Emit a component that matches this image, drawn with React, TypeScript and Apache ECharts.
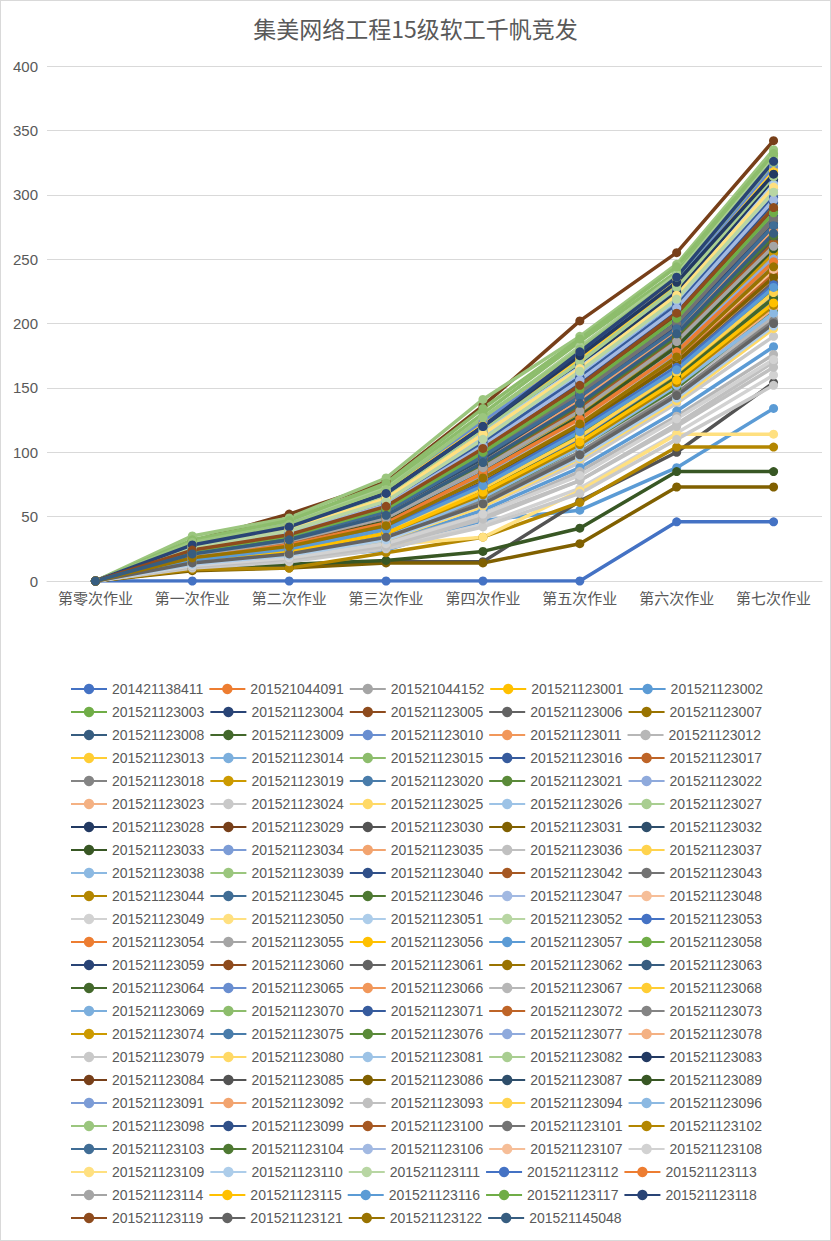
import React, { useEffect, useRef } from "react";
import * as echarts from "echarts";

const titleText = "集美网络工程15级软工千帆竞发";

const categories = ["第零次作业", "第一次作业", "第二次作业", "第三次作业", "第四次作业", "第五次作业", "第六次作业", "第七次作业"];

const yTicks = { min: 0, max: 400, interval: 50 };

const names = [
  "201421138411", "201521044091", "201521044152", "201521123001", "201521123002",
  "201521123003", "201521123004", "201521123005", "201521123006", "201521123007",
  "201521123008", "201521123009", "201521123010", "201521123011", "201521123012",
  "201521123013", "201521123014", "201521123015", "201521123016", "201521123017",
  "201521123018", "201521123019", "201521123020", "201521123021", "201521123022",
  "201521123023", "201521123024", "201521123025", "201521123026", "201521123027",
  "201521123028", "201521123029", "201521123030", "201521123031", "201521123032",
  "201521123033", "201521123034", "201521123035", "201521123036", "201521123037",
  "201521123038", "201521123039", "201521123040", "201521123042", "201521123043",
  "201521123044", "201521123045", "201521123046", "201521123047", "201521123048",
  "201521123049", "201521123050", "201521123051", "201521123052", "201521123053",
  "201521123054", "201521123055", "201521123056", "201521123057", "201521123058",
  "201521123059", "201521123060", "201521123061", "201521123062", "201521123063",
  "201521123064", "201521123065", "201521123066", "201521123067", "201521123068",
  "201521123069", "201521123070", "201521123071", "201521123072", "201521123073",
  "201521123074", "201521123075", "201521123076", "201521123077", "201521123078",
  "201521123079", "201521123080", "201521123081", "201521123082", "201521123083",
  "201521123084", "201521123085", "201521123086", "201521123087", "201521123089",
  "201521123091", "201521123092", "201521123093", "201521123094", "201521123096",
  "201521123098", "201521123099", "201521123100", "201521123101", "201521123102",
  "201521123103", "201521123104", "201521123106", "201521123107", "201521123108",
  "201521123109", "201521123110", "201521123111", "201521123112", "201521123113",
  "201521123114", "201521123115", "201521123116", "201521123117", "201521123118",
  "201521123119", "201521123121", "201521123122", "201521145048",
];

// cumulative scores per student, one row per name, in the same order
const scores: number[][] = [
  [0, 0, 0, 0, 0, 0, 46, 46],
  [0, 20, 30, 48, 85, 128, 175, 238],
  [0, 16, 24, 40, 72, 118, 165, 222],
  [0, 26, 40, 64, 115, 160, 218, 300],
  [0, 12, 18, 24, 47, 55, 88, 134],
  [0, 24, 36, 58, 100, 150, 205, 285],
  [0, 28, 42, 66, 122, 176, 228, 316],
  [0, 22, 33, 52, 95, 140, 190, 268],
  [0, 25, 35, 56, 98, 145, 200, 292],
  [0, 18, 26, 42, 80, 125, 180, 250],
  [0, 21, 31, 50, 90, 138, 196, 278],
  [0, 19, 28, 46, 86, 132, 185, 262],
  [0, 27, 41, 68, 118, 170, 226, 310],
  [0, 17, 25, 41, 76, 122, 170, 235],
  [0, 15, 22, 36, 66, 100, 150, 205],
  [0, 29, 43, 70, 124, 178, 234, 320],
  [0, 23, 34, 57, 104, 158, 214, 296],
  [0, 31, 46, 74, 130, 186, 240, 330],
  [0, 20, 29, 47, 88, 134, 188, 265],
  [0, 22, 32, 50, 92, 136, 192, 272],
  [0, 14, 21, 35, 62, 98, 145, 200],
  [0, 16, 23, 38, 70, 112, 160, 225],
  [0, 24, 37, 60, 108, 162, 216, 298],
  [0, 19, 27, 44, 82, 127, 178, 255],
  [0, 26, 39, 63, 112, 166, 222, 306],
  [0, 18, 27, 43, 78, 120, 168, 232],
  [0, 13, 20, 33, 58, 92, 138, 190],
  [0, 28, 44, 69, 120, 174, 230, 318],
  [0, 25, 38, 61, 106, 156, 212, 294],
  [0, 30, 45, 72, 126, 182, 238, 328],
  [0, 27, 40, 65, 116, 168, 224, 312],
  [0, 31, 52, 77, 136, 202, 255, 342],
  [0, 9, 12, 15, 15, 62, 100, 154],
  [0, 8, 10, 14, 14, 29, 73, 73],
  [0, 21, 30, 49, 90, 134, 186, 260],
  [0, 10, 13, 16, 23, 41, 85, 85],
  [0, 17, 26, 42, 78, 118, 168, 228],
  [0, 15, 23, 37, 68, 108, 155, 215],
  [0, 12, 17, 28, 50, 78, 122, 170],
  [0, 24, 36, 56, 102, 152, 208, 290],
  [0, 20, 31, 48, 88, 130, 182, 258],
  [0, 35, 49, 80, 141, 190, 246, 335],
  [0, 23, 34, 54, 96, 146, 202, 284],
  [0, 18, 28, 45, 84, 126, 176, 245],
  [0, 22, 35, 55, 100, 148, 200, 280],
  [0, 9, 10, 22, 34, 61, 104, 104],
  [0, 19, 29, 46, 86, 130, 184, 262],
  [0, 14, 22, 36, 64, 104, 150, 210],
  [0, 25, 38, 62, 110, 160, 214, 300],
  [0, 17, 25, 40, 74, 116, 164, 230],
  [0, 11, 16, 26, 44, 72, 115, 160],
  [0, 14, 20, 28, 34, 70, 114, 114],
  [0, 27, 41, 66, 116, 166, 220, 308],
  [0, 23, 35, 57, 104, 154, 210, 292],
  [0, 16, 24, 39, 72, 110, 158, 218],
  [0, 21, 33, 52, 95, 142, 194, 270],
  [0, 20, 30, 47, 87, 128, 180, 252],
  [0, 26, 40, 64, 114, 164, 220, 304],
  [0, 13, 19, 30, 55, 88, 132, 182],
  [0, 18, 27, 44, 82, 124, 174, 242],
  [0, 22, 33, 53, 97, 144, 198, 276],
  [0, 19, 28, 45, 83, 125, 172, 240],
  [0, 16, 25, 41, 75, 116, 166, 232],
  [0, 20, 31, 49, 90, 136, 188, 264],
  [0, 24, 37, 59, 106, 158, 212, 296],
  [0, 15, 23, 37, 70, 108, 158, 220],
  [0, 29, 44, 70, 124, 176, 232, 322],
  [0, 17, 26, 42, 79, 122, 172, 240],
  [0, 12, 18, 30, 52, 85, 128, 176],
  [0, 28, 43, 69, 121, 172, 230, 318],
  [0, 22, 34, 55, 99, 150, 204, 286],
  [0, 32, 47, 76, 134, 188, 244, 332],
  [0, 25, 37, 60, 108, 158, 214, 298],
  [0, 18, 27, 43, 80, 122, 172, 238],
  [0, 14, 21, 34, 62, 100, 146, 202],
  [0, 20, 30, 48, 86, 130, 182, 255],
  [0, 21, 32, 51, 93, 138, 192, 270],
  [0, 16, 24, 40, 73, 114, 162, 226],
  [0, 19, 29, 47, 85, 128, 180, 250],
  [0, 15, 23, 38, 68, 106, 154, 212],
  [0, 10, 15, 25, 42, 68, 110, 152],
  [0, 13, 20, 32, 58, 95, 140, 196],
  [0, 26, 39, 62, 112, 162, 218, 304],
  [0, 27, 42, 67, 118, 170, 228, 314],
  [0, 28, 43, 68, 120, 175, 232, 316],
  [0, 23, 35, 56, 100, 150, 206, 288],
  [0, 20, 31, 50, 91, 136, 190, 266],
  [0, 17, 26, 42, 78, 120, 170, 236],
  [0, 22, 33, 52, 94, 141, 194, 274],
  [0, 19, 29, 46, 84, 128, 182, 258],
  [0, 18, 28, 44, 82, 124, 176, 246],
  [0, 21, 32, 51, 92, 140, 194, 272],
  [0, 11, 17, 27, 48, 78, 120, 166],
  [0, 16, 24, 38, 72, 112, 162, 224],
  [0, 14, 22, 35, 65, 104, 152, 208],
  [0, 30, 44, 71, 127, 180, 236, 325],
  [0, 24, 36, 58, 104, 154, 210, 294],
  [0, 20, 30, 49, 89, 134, 188, 262],
  [0, 23, 35, 54, 98, 146, 200, 282],
  [0, 15, 23, 37, 67, 106, 154, 214],
  [0, 22, 34, 54, 97, 143, 196, 276],
  [0, 21, 32, 50, 91, 137, 190, 268],
  [0, 25, 37, 59, 105, 156, 212, 296],
  [0, 18, 27, 44, 80, 123, 174, 242],
  [0, 12, 18, 29, 52, 82, 126, 172],
  [0, 27, 40, 64, 114, 165, 222, 306],
  [0, 13, 20, 32, 60, 96, 142, 198],
  [0, 26, 39, 62, 110, 163, 219, 302],
  [0, 17, 26, 42, 76, 118, 166, 230],
  [0, 19, 28, 45, 84, 126, 178, 248],
  [0, 20, 31, 49, 88, 132, 186, 260],
  [0, 15, 23, 37, 69, 108, 156, 216],
  [0, 16, 25, 40, 74, 116, 164, 228],
  [0, 23, 35, 56, 100, 149, 204, 286],
  [0, 28, 42, 68, 120, 178, 236, 326],
  [0, 24, 36, 58, 103, 152, 208, 290],
  [0, 14, 21, 34, 60, 98, 144, 200],
  [0, 18, 27, 43, 80, 122, 174, 244],
  [0, 21, 32, 51, 92, 138, 192, 270],
];

// Office theme accents and the shade/tint cycle Excel uses for many series
const baseColors = ["#4472C4", "#ED7D31", "#A5A5A5", "#FFC000", "#5B9BD5", "#70AD47"];
const variants: [string, number][] = [
  ["n", 0], ["s", 0.6], ["t", 0.2], ["s", 0.8], ["t", 0.4], ["s", 0.5], ["t", 0.3], ["s", 0.7], ["t", 0.5],
];

function seriesColor(i: number): string {
  const base = baseColors[i % 6];
  const [kind, f] = variants[Math.floor(i / 6) % variants.length];
  const rgb = [1, 3, 5].map((p) => parseInt(base.slice(p, p + 2), 16));
  const out = rgb.map((c) => {
    if (kind === "s") return Math.round(c * f);
    if (kind === "t") return Math.round(c + (255 - c) * f);
    return c;
  });
  return "#" + out.map((c) => c.toString(16).padStart(2, "0")).join("");
}

export default function App() {
  const ref = useRef<HTMLDivElement>(null);

  useEffect(() => {
    if (!ref.current) return;
    const chart = echarts.init(ref.current, null, { renderer: "svg" });
    const font = "'Liberation Sans', 'Noto Sans CJK SC', sans-serif";
    chart.setOption({
      animation: false,
      backgroundColor: "#ffffff",
      textStyle: { fontFamily: font },
      title: {
        text: titleText,
        left: "center",
        top: 10,
        textStyle: { fontSize: 23, fontWeight: "normal", color: "#595959", fontFamily: "'Noto Sans CJK SC', sans-serif" },
      },
      grid: { left: 46, right: 8, top: 65, height: 515, containLabel: false },
      xAxis: {
        type: "category",
        data: categories,
        boundaryGap: true,
        axisTick: { show: false },
        axisLine: { lineStyle: { color: "#D9D9D9", width: 1 } },
        axisLabel: { color: "#595959", fontSize: 15, margin: 10, interval: 0 },
      },
      yAxis: {
        type: "value",
        min: yTicks.min,
        max: yTicks.max,
        interval: yTicks.interval,
        axisLine: { show: false },
        axisTick: { show: false },
        axisLabel: { color: "#595959", fontSize: 15, margin: 9 },
        splitLine: { lineStyle: { color: "#D9D9D9", width: 1 } },
      },
      legend: {
        type: "plain",
        orient: "horizontal",
        left: 64,
        top: 674,
        width: 700,
        itemWidth: 36,
        itemHeight: 13,
        itemGap: 5,
        align: "left",
        textStyle: { color: "#595959", fontSize: 14, lineHeight: 18 },
        data: names,
      },
      series: names.map((name, i) => ({
        name,
        type: "line",
        data: scores[i],
        symbol: "circle",
        symbolSize: 9,
        showSymbol: true,
        showAllSymbol: true,
        color: seriesColor(i),
        lineStyle: { width: 3.5, color: seriesColor(i) },
        itemStyle: { color: seriesColor(i) },
        emphasis: { disabled: true },
        silent: true,
      })),
    });
    return () => chart.dispose();
  }, []);

  return (
    <div
      style={{
        position: "fixed",
        left: 0,
        top: 0,
        width: 831,
        height: 1241,
        boxSizing: "border-box",
        border: "1px solid #D9D9D9",
        background: "#ffffff",
      }}
    >
      <div ref={ref} style={{ width: 829, height: 1239 }} />
    </div>
  );
}
